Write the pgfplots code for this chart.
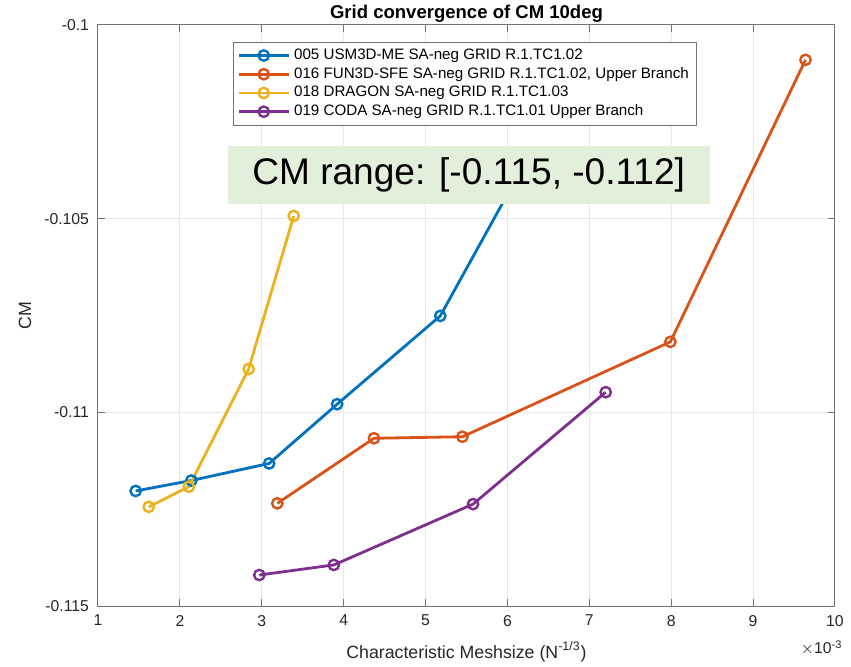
\documentclass[border=0pt]{standalone}
\usepackage{pgfplots}
\pgfplotsset{compat=1.18}
\usepackage{fontspec}
\setmainfont{Liberation Sans}
\definecolor{mblue}{rgb}{0,0.447,0.741}
\definecolor{morange}{rgb}{0.85,0.325,0.098}
\definecolor{myellow}{rgb}{0.929,0.694,0.125}
\definecolor{mpurple}{rgb}{0.494,0.184,0.556}
\definecolor{boxgreen}{HTML}{E2EFDA}
\begin{document}
\begin{tikzpicture}
\path[use as bounding box] (-49bp,-30.5bp) rectangle (376.5bp,303bp);
\begin{axis}[
  at={(0,0)}, anchor=south west,
  scale only axis,
  width=368.5bp, height=290.5bp,
  xmin=1, xmax=10, ymin=-0.115, ymax=-0.1,
  xtick={1,2,...,10},
  ytick={-0.115,-0.11,-0.105,-0.1},
  yticklabel style={/pgf/number format/fixed,/pgf/number format/precision=3},
  /pgf/number format/assume math mode=true,
  scaled y ticks=false,
  tick label style={font=\fontsize{7.9}{9}\selectfont, text=black!85},
  xticklabel style={yshift=-1bp},
  yticklabel style={xshift=-1bp},
  grid=major,
  major grid style={draw=black!9, line width=0.5bp},
  axis line style={draw=black!55, line width=0.5bp},
  tick style={draw=black!55, line width=0.5bp},
  major tick length=3.5bp,
  tick align=inside,
  xlabel={Characteristic Meshsize (N\textsuperscript{-1/3})},
  ylabel={CM},
  xlabel style={font=\fontsize{8.9}{10}\selectfont, text=black!85, at={(axis description cs:0.5,-0.079)}, anchor=center},
  ylabel style={font=\fontsize{8.9}{10}\selectfont, text=black!85, at={(axis description cs:-0.099,0.5)}, anchor=center, rotate=0},
  every axis title shift=0pt,
  title={Grid convergence of CM 10deg},
  title style={font=\bfseries\fontsize{9.3}{11}\selectfont, at={(axis description cs:0.5,1.019)}, anchor=center, yshift=0pt},
  legend style={at={(rel axis cs:0.183,0.971)}, anchor=north west,
    font=\fontsize{7.6}{9}\selectfont, draw=black!55, line width=0.5bp,
    inner xsep=2bp, inner ysep=1.2bp, row sep=-1.5bp},
  legend cell align=left,
  legend image code/.code={\draw[mark repeat=2,mark phase=2] plot coordinates {(0bp,0bp) (12.5bp,0bp) (25bp,0bp)};},
  every axis plot/.append style={line width=1.4bp, mark=o, mark size=2.6bp, mark options={solid, line width=1.2bp}},
]
\addplot[color=mblue] coordinates {
 (1.46,-0.11203) (2.14,-0.11176) (3.09,-0.11132) (3.92,-0.10979) (5.18,-0.10751) (6.15,-0.1038)};
\addlegendentry{005 USM3D-ME SA-neg GRID R.1.TC1.02}
\addplot[color=morange] coordinates {
 (3.19,-0.11235) (4.37,-0.11067) (5.45,-0.11063) (7.99,-0.10818) (9.64,-0.10090)};
\addlegendentry{016 FUN3D-SFE SA-neg GRID R.1.TC1.02, Upper Branch}
\addplot[color=myellow] coordinates {
 (1.62,-0.11244) (2.11,-0.11192) (2.84,-0.10888) (3.39,-0.10493)};
\addlegendentry{018 DRAGON SA-neg GRID R.1.TC1.03}
\addplot[color=mpurple] coordinates {
 (2.97,-0.11420) (3.88,-0.11394) (5.58,-0.11237) (7.20,-0.10948)};
\addlegendentry{019 CODA SA-neg GRID R.1.TC1.01 Upper Branch}
\coordinate (boxc) at (rel axis cs:0.503,0.742);
\coordinate (expc) at (rel axis cs:0.982,-0.072);
\end{axis}
\node[fill=boxgreen, minimum width=241bp, minimum height=29bp, inner sep=0pt,
  font=\fontsize{18.6}{20}\selectfont, text=black] at (boxc) {CM range: [-0.115, -0.112]};
\node[font=\fontsize{7.9}{9}\selectfont, text=black!85, anchor=center] at (expc) {$\times$10\textsuperscript{-3}};
\end{tikzpicture}
\end{document}
